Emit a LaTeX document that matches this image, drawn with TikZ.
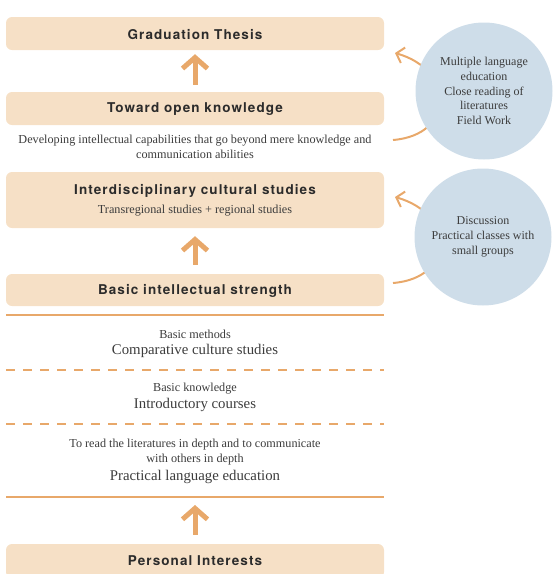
\documentclass[tikz,border=0pt]{standalone}
\usepackage{fontspec}
\setmainfont{Liberation Serif}
\newfontfamily\titlefont[LetterSpace=8]{TeX Gyre Heros}
\usetikzlibrary{arrows.meta}
\definecolor{boxfill}{HTML}{F6E0C6}
\definecolor{orng}{HTML}{E8A86A}
\definecolor{circfill}{HTML}{CEDDE9}
\definecolor{titletext}{HTML}{2B2B2B}
\definecolor{bodytext}{HTML}{3C3C3C}
\tikzset{
  stagebox/.style={rectangle, rounded corners=6pt, fill=boxfill, minimum width=378pt, inner sep=0pt},
  titletxt/.style={font=\titlefont\bfseries\fontsize{13.5}{16}\selectfont, text=titletext},
  smalltxt/.style={font=\fontsize{12.2}{15}\selectfont, text=bodytext, align=center, inner sep=0pt},
  bigtxt/.style={font=\fontsize{14.8}{17}\selectfont, text=bodytext, align=center, inner sep=0pt},
  bigarrow/.style={draw=orng, line width=5pt, -{Straight Barb[length=11pt,width=25pt,line width=5pt]}},
  curvearrow/.style={draw=orng, line width=2pt, -{Straight Barb[length=7pt,width=16pt,line width=2pt]}},
  sepline/.style={draw=orng, line width=2pt},
  dashline/.style={draw=orng, line width=2pt, dash pattern=on 9pt off 8pt},
  bubble/.style={circle, fill=circfill, minimum size=137pt, inner sep=0pt, align=center, font=\fontsize{12}{14.8}\selectfont, text=bodytext}
}
\begin{document}
\begin{tikzpicture}[x=1pt,y=-1pt]
\useasboundingbox (0,0) rectangle (559,574);
% boxes
\node[stagebox, minimum height=33pt] (grad) at (195,33.5) {};
\node[titletxt] (gradt) at (195,34.5) {Graduation Thesis};
\node[stagebox, minimum height=33pt] (tok) at (195,108.5) {};
\node[titletxt] (tokt) at (195,109.5) {Toward open knowledge};
\node[smalltxt] (dev) at (195,146.5) {Developing intellectual capabilities that go beyond mere knowledge and\\communication abilities};
\node[stagebox, minimum height=56pt] (inter) at (195,200) {};
\node[titletxt] (intert) at (195,190.5) {Interdisciplinary cultural studies};
\node[smalltxt] (intersub) at (195,211) {Transregional studies + regional studies};
\node[stagebox, minimum height=32pt] (basic) at (195,290) {};
\node[titletxt] (basict) at (195,291) {Basic intellectual strength};
\node[stagebox, minimum height=34pt] (pers) at (195,561) {};
\node[titletxt] (perst) at (195,561) {Personal Interests};
% separators
\coordinate (l1a) at (6,315); \coordinate (l1b) at (384,315);
\coordinate (l2a) at (6,370); \coordinate (l2b) at (384,370);
\coordinate (l3a) at (6,424); \coordinate (l3b) at (384,424);
\coordinate (l4a) at (6,497); \coordinate (l4b) at (384,497);
\draw[sepline] (l1a) -- (l1b);
\draw[dashline] (l2a) -- (l2b);
\draw[dashline] (l3a) -- (l3b);
\draw[sepline] (l4a) -- (l4b);
\coordinate (l4m) at (195,497);
% layer texts
\node[smalltxt] (bm) at (195,334) {Basic methods};
\node[bigtxt] (cc) at (195,351) {Comparative culture studies};
\node[smalltxt] (bk) at (195,389) {Basic knowledge};
\node[bigtxt] (ic) at (195,405) {Introductory courses};
\node[smalltxt] (tr) at (195,452.5) {To read the literatures in depth and to communicate\\with others in depth};
\node[bigtxt] (pl) at (195,477) {Practical language education};
% big arrows
\draw[bigarrow, shorten <=7pt, shorten >=4pt] (tok.north) -- (grad.south);
\draw[bigarrow, shorten <=9pt, shorten >=8pt] (basic.north) -- (inter.south);
\draw[bigarrow, shorten <=9pt, shorten >=8pt] (pers.north) -- (l4m);
% curved arrows behind bubbles
\coordinate (c1s) at (393,140); \coordinate (c1e) at (395,53);
\coordinate (c2s) at (393,283); \coordinate (c2e) at (395,197);
\draw[curvearrow] (c1s) .. controls (455,135) and (455,70) .. (c1e);
\draw[curvearrow] (c2s) .. controls (455,278) and (455,214) .. (c2e);
% bubbles
\node[bubble] (b1) at (484,91) {Multiple language\\education\\Close reading of\\literatures\\Field Work};
\node[bubble] (b2) at (483,237) {Discussion\\Practical classes with\\small groups};
\end{tikzpicture}
\end{document}
